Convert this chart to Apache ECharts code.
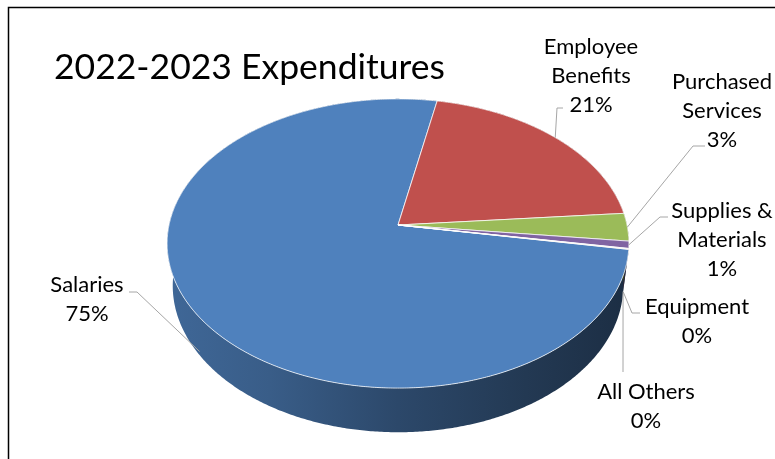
<!DOCTYPE html>
<html>
<head>
<meta charset="utf-8">
<script src="https://cdn.jsdelivr.net/npm/echarts@6/dist/echarts.min.js"></script>
<style>
  html, body { margin: 0; padding: 0; background: #ffffff; }
  #chart { width: 775px; height: 459px; }
</style>
</head>
<body>
<div id="chart"></div>
<script>
// Spending categories and their shares of the 2022-2023 budget (percent)
const categories = ['Salaries', 'Employee Benefits', 'Purchased Services', 'Supplies & Materials', 'Equipment', 'All Others'];
const labelNames = ['Salaries', 'Employee\nBenefits', 'Purchased\nServices', 'Supplies &\nMaterials', 'Equipment', 'All Others'];
const shares = [75.4, 20.6, 3.1, 0.8, 0.05, 0.05];
const sliceColors = ['#4f81bd', '#c0504d', '#9bbb59', '#8064a2', '#4bacc6', '#f79646'];

// Angle (degrees, clockwise from the far side of the disc) where the first slice starts
const START_ANGLE = 99.65;

// 3D view of the disc: screen centre, scale, camera elevation, perspective strength, thickness
const VIEW = { cx: 398, cy: 225, s: 229, elev: 38.4 * Math.PI / 180, q: 0.163, depth: 0.243 };

// Label placement: text block centre, elbow and end of the leader line, and how far down
// the rim (0 = top edge, 1 = bottom edge) the leader starts
const labelLayout = [
  { x: 87,  y: 299, elbow: [137, 292], end: [129, 292], level: 0.9 },
  { x: 591, y: 76,  elbow: [557, 108], end: [563, 108], level: 0 },
  { x: 722, y: 111, elbow: [693, 146], end: [705, 146], level: 0 },
  { x: 722, y: 240, elbow: [660, 217], end: [668, 217], level: 0 },
  { x: 697, y: 321, elbow: [632, 313], end: [640, 313], level: 1 },
  { x: 646, y: 406, elbow: [623, 372], end: [623, 372], level: 1 }
];

const total = shares.reduce((a, b) => a + b, 0);
let acc = START_ANGLE;
const arcs = shares.map(v => { const a0 = acc; acc += v / total * 360; return [a0, acc]; });

function project(phiDeg, level) {
  const p = phiDeg * Math.PI / 180;
  const X = Math.sin(p), Z = Math.cos(p), Y = -VIEW.depth * level;
  const ce = Math.cos(VIEW.elev), se = Math.sin(VIEW.elev);
  const yc = Y * ce + Z * se;
  const zc = 1 + VIEW.q * (Z * ce - Y * se);
  return [VIEW.cx + VIEW.s * X / zc, VIEW.cy - VIEW.s * yc / zc];
}

function arcPoints(a0, a1, level) {
  const n = Math.max(2, Math.ceil(Math.abs(a1 - a0) / 0.5) + 1);
  const pts = [];
  for (let i = 0; i < n; i++) pts.push(project(a0 + (a1 - a0) * i / (n - 1), level));
  return pts;
}

function shade(hex, f) {
  const n = parseInt(hex.slice(1), 16);
  const r = Math.round(((n >> 16) & 255) * f), g = Math.round(((n >> 8) & 255) * f), b = Math.round((n & 255) * f);
  return 'rgb(' + r + ',' + g + ',' + b + ')';
}

function wallFill(color) {
  return {
    type: 'linear', x: VIEW.cx - VIEW.s, y: 0, x2: VIEW.cx + VIEW.s, y2: 0, global: true,
    colorStops: [
      { offset: 0, color: shade(color, 0.80) },
      { offset: 0.22, color: shade(color, 0.72) },
      { offset: 0.5, color: shade(color, 0.56) },
      { offset: 0.78, color: shade(color, 0.44) },
      { offset: 1, color: shade(color, 0.36) }
    ]
  };
}

const pieData = shares.map((v, i) => ({ name: categories[i], value: [arcs[i][0], arcs[i][1], v] }));

const option = {
  animation: false,
  backgroundColor: '#ffffff',
  title: {
    text: '2022-2023 Expenditures',
    left: 49, top: 45,
    textStyle: { fontFamily: 'Lato', fontWeight: 'normal', fontSize: 35.5, color: '#000000' }
  },
  graphic: [{
    type: 'rect', silent: true,
    shape: { x: 8.5, y: 7.5, width: 900, height: 600 },
    style: { fill: 'none', stroke: '#000000', lineWidth: 1.5 }
  }],
  series: [
    {
      // rim of the disc
      type: 'custom', coordinateSystem: 'none', z: 1, silent: true,
      data: pieData,
      renderItem: function (params, api) {
        const a0 = api.value(0), a1 = api.value(1);
        const top = arcPoints(a0, a1, 0);
        const bottom = arcPoints(a1, a0, 1);
        return {
          type: 'polygon',
          shape: { points: top.concat(bottom) },
          style: { fill: wallFill(sliceColors[params.dataIndex]), stroke: null }
        };
      }
    },
    {
      // top faces of the slices
      type: 'custom', coordinateSystem: 'none', z: 2, silent: true,
      data: pieData,
      renderItem: function (params, api) {
        const a0 = api.value(0), a1 = api.value(1);
        const pts = [[VIEW.cx, VIEW.cy]].concat(arcPoints(a0, a1, 0));
        return {
          type: 'polygon',
          shape: { points: pts },
          style: { fill: sliceColors[params.dataIndex], stroke: 'rgba(255,255,255,0.75)', lineWidth: 1, lineJoin: 'round' }
        };
      }
    },
    {
      // category labels with leader lines
      type: 'custom', coordinateSystem: 'none', z: 3, silent: true,
      data: pieData,
      renderItem: function (params, api) {
        const i = params.dataIndex;
        const L = labelLayout[i];
        const mid = (api.value(0) + api.value(1)) / 2;
        const anchor = project(mid, L.level);
        const pct = Math.round(api.value(2) / total * 100) + '%';
        return {
          type: 'group',
          children: [
            {
              type: 'polyline',
              shape: { points: [anchor, L.elbow, L.end] },
              style: { stroke: '#a6a6a6', lineWidth: 1, fill: null }
            },
            {
              type: 'text',
              x: L.x, y: L.y,
              style: {
                text: labelNames[i] + '\n' + pct,
                fill: '#000000', font: '22px Lato', lineHeight: 29,
                align: 'center', verticalAlign: 'middle'
              }
            }
          ]
        };
      }
    }
  ]
};

const chart = echarts.init(document.getElementById('chart'), null, { renderer: 'canvas' });
chart.setOption(option);
</script>
</body>
</html>
